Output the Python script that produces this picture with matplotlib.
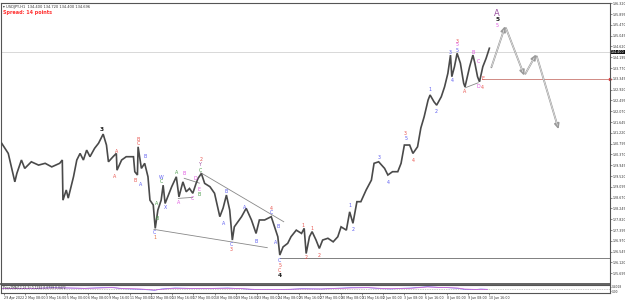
import matplotlib.pyplot as plt
from matplotlib.transforms import blended_transform_factory

# USDJPY H1 - price path pivots (bar index, price)
bar_idx = [0, 10, 20, 23, 30, 35, 45, 56, 66, 76, 88, 92, 93, 98, 101, 109, 114, 119, 124, 129,
           134, 141, 147, 154, 159, 162, 169, 174, 175, 182, 189, 200, 202, 206, 207, 212, 217, 222, 225, 230,
           232, 233, 237, 242, 245, 248, 258, 265, 269, 275, 280, 285, 290, 295, 298, 303, 308, 316, 323, 331,
           336, 341, 346, 350, 353, 364, 371, 379, 386, 391, 399, 409, 414, 419, 422, 427, 434, 439, 447, 455,
           459, 462, 467, 471, 477, 482, 487, 495, 503, 510, 515, 523, 528, 533, 539, 545, 553, 561, 565, 572,
           581, 586, 593, 601, 606, 611, 619, 624, 631, 636, 641, 647, 650, 656, 660, 667, 672, 677, 681, 683,
           687, 691, 696, 701, 703, 710, 715, 718, 722, 725, 730, 735, 740]
price = [130.81, 130.41, 129.29, 129.62, 130.15, 129.82, 130.08, 129.95, 130.02, 129.88, 130.02, 130.15, 128.57, 128.97, 128.65, 129.49, 130.15, 130.41, 130.15, 130.54,
         130.28, 130.61, 130.81, 131.17, 130.74, 130.08, 130.28, 130.41, 129.75, 130.15, 130.28, 130.28, 129.69, 129.56, 130.67, 129.82, 130.02, 129.49, 128.57, 128.38,
         127.79, 127.46, 128.18, 128.57, 129.16, 128.44, 129.10, 129.49, 128.70, 129.29, 128.90, 129.03, 128.84, 129.23, 129.43, 129.62, 129.23, 129.10, 128.84, 127.92,
         128.26, 128.77, 128.18, 127.00, 127.52, 127.92, 128.25, 127.79, 127.26, 127.79, 127.79, 127.92, 127.52, 127.13, 126.41, 126.73, 126.87, 127.13, 127.39, 127.26,
         127.46, 126.47, 127.13, 127.33, 127.00, 126.67, 127.00, 127.07, 126.93, 127.13, 127.52, 127.39, 128.11, 127.66, 128.51, 128.51, 128.97, 129.36, 130.02, 130.08,
         129.82, 129.56, 129.69, 129.69, 130.02, 130.74, 130.74, 130.41, 130.67, 131.41, 131.85, 132.51, 132.71, 132.44, 132.31, 132.64, 133.03, 133.56, 134.28, 133.43,
         133.82, 134.35, 133.96, 133.17, 133.03, 133.82, 134.28, 133.96, 133.43, 133.23, 133.82, 134.15, 134.55]

# wave counts
wave_bar = [152, 175, 172, 207, 207, 217, 202, 211, 242, 242, 265, 277, 248, 235, 236, 232, 232, 269, 289, 294,
            300, 300, 302, 302, 302, 340, 336, 369, 386, 348, 348, 409, 409, 419, 416, 422, 422, 422, 422,
            457, 462, 471, 481, 528, 534, 573, 586, 613, 613, 625, 650, 660, 681, 683, 691, 691, 691,
            703, 715, 723, 723, 730, 730, 752, 752, 752]
wave_price = [131.35, 130.47, 129.49, 130.96, 130.81, 130.27, 129.33, 129.18, 129.47, 129.32, 129.65, 129.61, 128.27, 128.43, 127.83, 127.29, 127.09, 128.48, 128.62, 129.41,
              128.97, 128.80, 130.18, 129.98, 129.75, 128.93, 127.67, 128.27, 126.96, 126.83, 126.61, 128.25, 128.07, 127.55, 126.89, 126.21, 126.01, 125.82, 125.59,
              127.59, 126.33, 127.44, 126.41, 128.35, 127.42, 130.24, 129.27, 131.19, 130.98, 130.15, 132.93, 132.05, 134.39, 133.27, 134.83, 134.68, 134.48,
              132.86, 134.39, 134.02, 133.05, 133.34, 133.02, 135.92, 135.70, 135.45]
wave_text = ["3", "A", "A", "B", "C", "B", "B", "A", "W", "C", "A", "B", "X", "A", "B", "C", "1", "A", "C", "D",
             "E", "B", "2", "Y", "C", "B", "A", "A", "B", "C", "3", "4", "C", "B", "A", "C", "5", "C", "4",
             "1", "2", "1", "2", "1", "2", "3", "4", "3", "5", "4", "1", "2", "3", "4", "3", "5", "5",
             "A", "B", "C", "D", "E", "4", "A", "5", "5"]
wave_color = ["k", "r", "r", "r", "r", "b", "r", "b", "b", "g", "g", "p", "b", "g", "g", "b", "o", "p", "p", "p",
              "p", "g", "r", "v", "g", "b", "b", "b", "b", "b", "r", "r", "b", "b", "b", "b", "r", "r", "k",
              "r", "r", "r", "r", "b", "b", "b", "b", "r", "b", "r", "b", "b", "b", "b", "r", "p", "b",
              "r", "p", "p", "p", "r", "r", "v", "k", "p"]
palette = {"r": "#e8544e", "b": "#5c5cf0", "p": "#e055e0", "g": "#4a9a4a",
           "k": "#1a1a1a", "v": "#9a4fa0", "o": "#e07040"}

# trendlines (bar0, price0, bar1, price1)
trend_lines = [(302, 129.65, 428, 127.72), (231, 127.42, 403, 126.70),
               (268, 128.64, 290, 128.68), (277, 129.43, 300, 129.24),
               (703, 132.99, 723, 133.19)]

# projected path
proj_bar = [742, 764, 793, 811, 845]
proj_price = [133.72, 135.42, 133.47, 134.31, 131.36]

support_level = 126.30
red_level = 133.34
bid = 134.40

ytick_vals = [136.320, 135.895, 135.470, 135.045, 134.620, 134.195, 133.770, 133.345, 132.920,
              132.495, 132.070, 131.645, 131.220, 130.795, 130.370, 129.945, 129.520, 129.095,
              128.670, 128.245, 127.820, 127.395, 126.970, 126.545, 126.120, 125.695]

date_labels = ["29 Apr 2022", "2 May 08:00", "3 May 16:00", "5 May 00:00", "6 May 08:00", "9 May 16:00",
               "11 May 00:00", "12 May 08:00", "13 May 16:00", "17 May 00:00", "18 May 08:00", "19 May 16:00",
               "23 May 00:00", "24 May 08:00", "25 May 16:00", "27 May 00:00", "30 May 08:00", "31 May 16:00",
               "2 Jun 00:00", "3 Jun 08:00", "6 Jun 16:00", "8 Jun 00:00", "9 Jun 08:00", "10 Jun 16:00"]

# oscillator pane
osc_bar = [0, 30, 45, 76, 101, 126, 152, 167, 182, 212, 232, 242, 263, 283, 303, 323, 343, 364, 384, 404,
           429, 455, 485, 505, 530, 556, 576, 591, 606, 621, 646, 662, 677, 692, 702, 717, 727, 737]
osc_main = [3, 3, 2, 5, 4, 3, 5, 6, 2, 0, -3, 1, 4, 3, 2, 3, 4, 2, -1, 0,
            -1, 2, 1, 3, 5, 5, 2, 1, 3, 4, 8, 6, 5, 3, 0, -1, 1, 0]
osc_sig = [2, 3, 3, 4, 4, 3, 4, 5, 3, 1, -2, 0, 3, 3, 2, 3, 3, 2, 0, 0,
           0, 1, 1, 2, 4, 5, 3, 2, 2, 3, 7, 6, 5, 4, 1, 0, 0, 0]

W, H = 625, 301
fig = plt.figure(figsize=(W / 100, H / 100), dpi=100)
fig.patch.set_facecolor("white")
ax = fig.add_axes([1 / W, (H - 284) / H, 609 / W, 281 / H])
axo = fig.add_axes([1 / W, (H - 293) / H, 609 / W, 8 / H], sharex=ax)

frame = "#555555"
for a in (ax, axo):
    for s in a.spines.values():
        s.set_color(frame)
        s.set_linewidth(0.8)
ax.spines["bottom"].set_linewidth(1.3)

ax.set_xlim(-1, 923)
ax.set_ylim(125.27, 136.33)

# price
ax.plot(bar_idx, price, color="#4a4a4a", lw=1.2, solid_joinstyle="miter", zorder=3)

# levels
ax.axhline(bid, color="#d2d2d2", lw=0.6, zorder=1)
ax.plot([422, 923], [support_level] * 2, color="#808080", lw=0.7, zorder=2)
ax.plot([729, 923], [red_level] * 2, color="#d08a84", lw=0.7, zorder=2)

for x0, y0, x1, y1 in trend_lines:
    ax.plot([x0, x1], [y0, y1], color="#888888", lw=0.6, zorder=2)

# projection arrows (hollow look: grey outline, light core)
for i in range(len(proj_bar) - 1):
    xy0 = (proj_bar[i], proj_price[i])
    xy1 = (proj_bar[i + 1], proj_price[i + 1])
    ax.annotate("", xy=xy1, xytext=xy0,
                arrowprops=dict(arrowstyle="-|>,head_length=0.3,head_width=0.14",
                                color="#9a9a9a", lw=1.3, shrinkA=1.5, shrinkB=0), zorder=4)
    ax.annotate("", xy=xy1, xytext=xy0,
                arrowprops=dict(arrowstyle="-", color="#eeeeee", lw=0.45,
                                shrinkA=2, shrinkB=3), zorder=4)

for b, p, t, c in zip(wave_bar, wave_price, wave_text, wave_color):
    fs = 3.4
    weight = "normal"
    if t == "A" and c == "v":
        fs = 6
    elif c == "k":
        fs = 4.2
        weight = "bold"
    ax.text(b, p, t, color=palette[c], fontsize=fs, ha="center", va="center",
            fontweight=weight, zorder=5)

# right price scale
ax.yaxis.tick_right()
ax.set_yticks(ytick_vals)
ax.set_yticklabels([f"{v:.3f}" for v in ytick_vals])
ax.tick_params(axis="y", labelsize=2.3, length=1.2, width=0.4, pad=0.6, colors="#333333")
ax.tick_params(axis="x", bottom=False, labelbottom=False)
tr = blended_transform_factory(ax.transAxes, ax.transData)
ax.text(1.0015, bid, f"{bid:.3f}", transform=tr, fontsize=2.3, color="white", va="center", ha="left",
        bbox=dict(boxstyle="square,pad=0.12", fc="#111111", ec="none"), zorder=6, clip_on=False)
ax.plot([1.0], [red_level], marker=">", color="#e04040", ms=1.5, transform=tr, clip_on=False)

# header
ax.text(0.004, 0.992, "▾ USDJPY,H1  134.400 134.720 134.400 134.696", transform=ax.transAxes,
        fontsize=2.6, color="#333333", va="top", ha="left")
ax.text(0.004, 0.975, "Spread: 14 points", transform=ax.transAxes,
        fontsize=3.5, color="#ff3030", va="top", ha="left", fontweight="bold")

# oscillator
axo.set_ylim(-11, 13)
axo.axhline(0, color="#999999", lw=0.5, ls=(0, (1, 1.5)))
axo.plot(osc_bar, osc_main, color="#7070f0", lw=0.5)
axo.plot(osc_bar, osc_sig, color="#d060d0", lw=0.5)
axo.text(0.004, 0.92, "Price2MA(12,26,9) 0.1292 0.0739 0.0472", transform=axo.transAxes,
         fontsize=2.2, color="#333333", va="top", ha="left")
axo.yaxis.tick_right()
axo.set_yticks([8, -6])
axo.set_yticklabels(["0.4018", "0.00"])
axo.tick_params(axis="y", labelsize=2.1, length=1, width=0.4, pad=0.6, colors="#333333")

# time scale
date_pos = [3 + 32 * k for k in range(len(date_labels))]
axo.set_xticks(date_pos)
axo.set_xticklabels(date_labels, ha="left")
axo.tick_params(axis="x", labelsize=2.3, length=1.2, width=0.4, pad=0.8, colors="#333333")

fig.savefig("out.png", dpi=100)
